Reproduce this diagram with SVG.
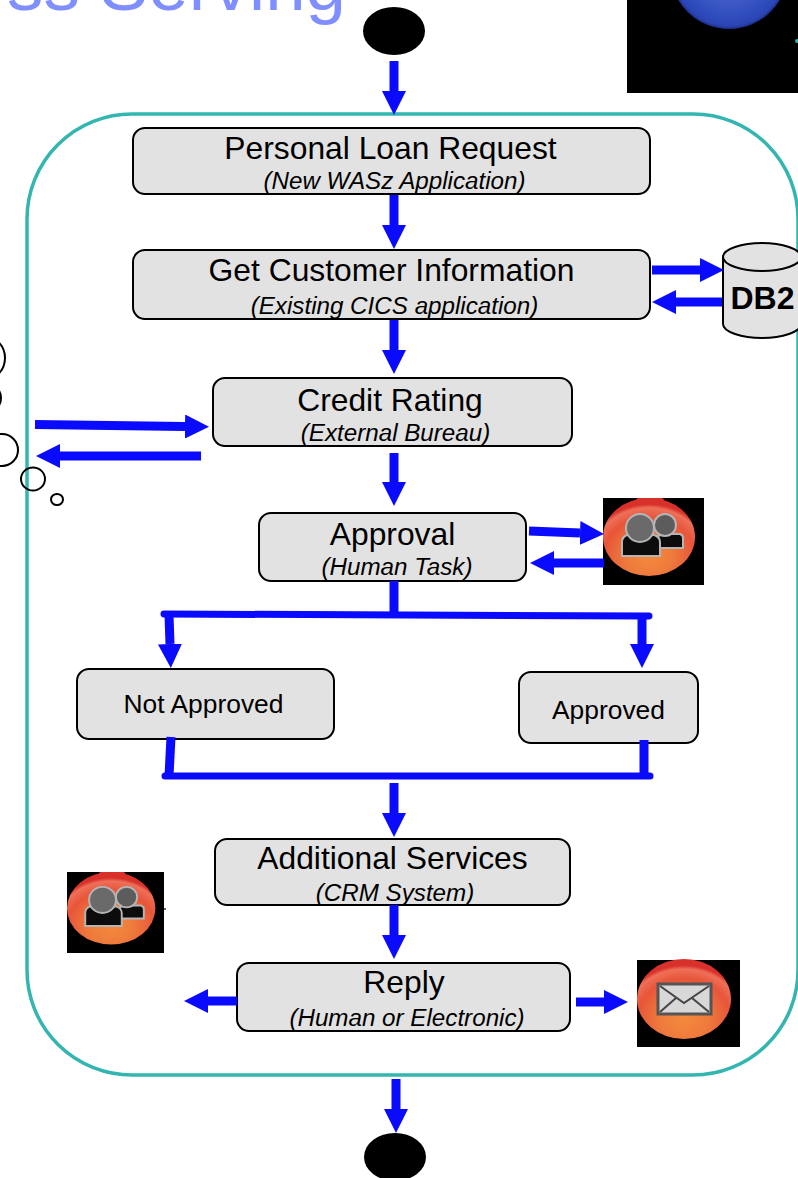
<svg xmlns="http://www.w3.org/2000/svg" width="798" height="1178" viewBox="0 0 798 1178">
<style>
text{font-family:"Liberation Sans",Arial,sans-serif;fill:#000;text-anchor:middle}
.box{fill:#e2e2e2;stroke:#000;stroke-width:2}
.h{font-size:31.800px}
.s{font-size:24.200px;font-style:italic}
.m{font-size:26.400px}
.c{fill:none;stroke:#0a0aff;stroke-width:9}
.a{marker-end:url(#arr)}
.bare{fill:none;stroke:#000;stroke-width:2}
.j{stroke-width:7;stroke-linecap:round}
</style>
<defs>
<marker id="arr" markerUnits="userSpaceOnUse" markerWidth="24" markerHeight="24" refX="0" refY="12" orient="auto" viewBox="0 0 24 24">
<path d="M0 0L24 12L0 24Z" fill="#0a0aff"/>
</marker>
<radialGradient id="red" cx="50%" cy="74%" r="66%">
<stop offset="0" stop-color="#f48a3c"/><stop offset=".4" stop-color="#ee7a3c"/><stop offset=".75" stop-color="#e8553a"/><stop offset=".93" stop-color="#ee7058"/><stop offset="1" stop-color="#d8302a"/>
</radialGradient>
<radialGradient id="blue" gradientUnits="userSpaceOnUse" cx="729" cy="-30" r="59">
<stop offset="0" stop-color="#5a72cc"/><stop offset=".75" stop-color="#3350c0"/><stop offset=".95" stop-color="#2a44b4"/><stop offset="1" stop-color="#1d2d86"/>
</radialGradient>
<symbol id="people" viewBox="0 0 101 87" preserveAspectRatio="none">
<rect width="101" height="87" fill="#000"/>
<ellipse cx="47" cy="2" rx="14" ry="4" fill="#d8302a"/>
<ellipse cx="46" cy="39" rx="46" ry="39" fill="url(#red)"/>
<g stroke="#b5b5b5" stroke-width="2" fill="#0c0c0c">
<path d="M55 50V40q0-3 4-4h18q3 1 3 4v10z"/>
<path d="M19 58V44q0-5 5-7h27q6 2 6 7v14z"/>
<circle cx="62" cy="27" r="11" fill="#5c5c5c"/>
<circle cx="37" cy="30" r="14" fill="#6a6a6a"/>
</g>
</symbol>
</defs>
<text x="346" y="10" style="font-size:72.600px;fill:#7f8fff;text-anchor:end">ss Serving</text>
<g id="globe">
<rect x="627" y="0" width="171" height="93" fill="#000"/>
<circle cx="729" cy="-30" r="59" fill="url(#blue)"/>
<circle cx="797" cy="41" r="2" fill="#2ab5a8"/>
</g>
<rect id="process" x="27" y="114" width="771" height="961" rx="105" fill="none" stroke="#33b5b0" stroke-width="3.500"/>
<g id="bubble">
<ellipse class="bare" cx="-16" cy="358" rx="21" ry="22"/>
<ellipse class="bare" cx="-12" cy="398" rx="13" ry="14"/>
<circle class="bare" cx="2" cy="450" r="16"/>
<ellipse class="bare" cx="33" cy="479" rx="12" ry="11.500"/>
<ellipse class="bare" cx="57" cy="499.500" rx="6" ry="5.500"/>
</g>
<g id="start"><ellipse cx="394" cy="31" rx="31" ry="24"/></g>
<g id="end"><ellipse cx="395" cy="1157" rx="31" ry="24"/></g>
<g id="loan"><rect class="box" x="133" y="128" width="517" height="66" rx="12"/><text class="h" x="390.500" y="159">Personal Loan Request</text><text class="s" x="394.500" y="189">(New WASz Application)</text></g>
<g id="customer"><rect class="box" x="133" y="250" width="517" height="69" rx="12"/><text class="h" x="391.500" y="281">Get Customer Information</text><text class="s" x="394.500" y="314">(Existing CICS application)</text></g>
<g id="credit"><rect class="box" x="213" y="378" width="359" height="68" rx="12"/><text class="h" x="390" y="411">Credit Rating</text><text class="s" x="395.500" y="441">(External Bureau)</text></g>
<g id="approval"><rect class="box" x="259" y="513" width="267" height="68" rx="12"/><text class="h" x="392.500" y="545">Approval</text><text class="s" x="397" y="575">(Human Task)</text></g>
<g id="notapproved"><rect class="box" x="77" y="669" width="257" height="70" rx="12"/><text class="m" x="203.500" y="713">Not Approved</text></g>
<g id="approved"><rect class="box" x="519" y="672" width="179" height="71" rx="12"/><text class="m" x="608.500" y="719">Approved</text></g>
<g id="services"><rect class="box" x="215" y="839" width="355" height="66" rx="12"/><text class="h" x="392.500" y="869">Additional Services</text><text class="s" x="395" y="901">(CRM System)</text></g>
<g id="reply"><rect class="box" x="237" y="963" width="333" height="68" rx="12"/><text class="h" x="404" y="993">Reply</text><text class="s" x="407" y="1026">(Human or Electronic)</text></g>
<g id="db2">
<path class="box" d="M723 257V324C723 332 742 338 762 338S801 332 801 324V257C801 249 782 243 762 243S723 249 723 257Z"/>
<path class="bare" d="M723 257C723 265 742 271 762 271S801 265 801 257"/>
<text x="762.500" y="309" style="font-size:32px;font-weight:bold">DB2</text>
</g>
<use id="approver" href="#people" x="603" y="498" width="101" height="87"/>
<g id="agent">
<use href="#people" x="67" y="872" width="97" height="81"/>
<path d="M164 909h2" stroke="#333" stroke-width="1.500"/>
</g>
<g id="mail">
<rect x="637" y="960" width="103" height="87" fill="#000"/>
<ellipse cx="684" cy="999" rx="47" ry="40" fill="url(#red)"/>
<rect x="658" y="984" width="53" height="30" fill="#d8d8d8" stroke="#555" stroke-width="3"/>
<path d="M660 986L684 1003L709 986M660 1012L676 998M709 1012L692 998" fill="none" stroke="#444" stroke-width="2"/>
</g>
<g id="connectors">
<path class="c a" d="M394 61V91"/>
<path class="c a" d="M394 195V225"/>
<path class="c a" d="M394 320V350"/>
<path class="c a" d="M394 453V482"/>
<path class="c a" d="M652 270H700"/>
<path class="c a" d="M722 302H676"/>
<path class="c a" d="M35 424.500L185 426.500"/>
<path class="c a" d="M201 456H60"/>
<path class="c a" d="M529 531L580 533"/>
<path class="c a" d="M604 563H554"/>
<path class="c" d="M394 581V614"/>
<path class="c j" d="M164 614L649 616"/>
<path class="c a" d="M169 615L170 644"/>
<path class="c a" d="M642 616V644"/>
<path class="c" d="M171 737L169 776"/>
<path class="c" d="M644 740V776"/>
<path class="c j" d="M165 776H650"/>
<path class="c a" d="M394 783V813"/>
<path class="c a" d="M394 905V935"/>
<path class="c a" d="M237 1001H208"/>
<path class="c a" d="M576 1002H604"/>
<path class="c a" d="M396 1079V1109"/>
</g>
</svg>
